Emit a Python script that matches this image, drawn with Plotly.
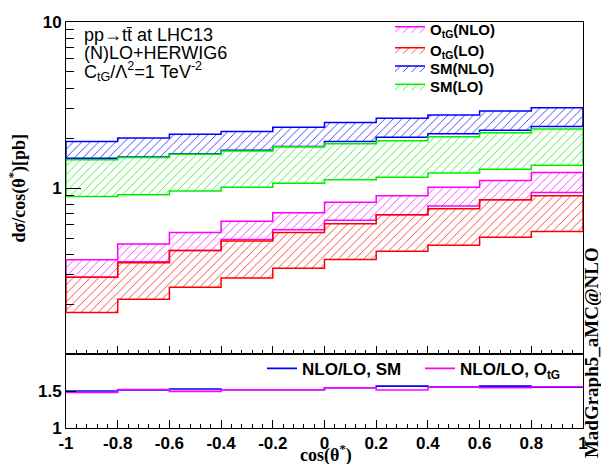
import plotly.graph_objects as go
from plotly.subplots import make_subplots

# ---------------- data ----------------
edges = [-1.0, -0.8, -0.6, -0.4, -0.2, 0.0, 0.2, 0.4, 0.6, 0.8, 1.0]

sm_nlo_hi = [1.91, 2.00, 2.11, 2.19, 2.32, 2.48, 2.63, 2.75, 2.91, 3.04]
sm_nlo_lo = [1.51, 1.54, 1.61, 1.69, 1.78, 1.91, 2.02, 2.12, 2.23, 2.35]
sm_lo_hi = [1.48, 1.53, 1.60, 1.67, 1.77, 1.85, 1.93, 2.04, 2.15, 2.27]
sm_lo_lo = [0.89, 0.91, 0.96, 1.01, 1.07, 1.12, 1.16, 1.23, 1.30, 1.37]
otg_nlo_hi = [0.37, 0.46, 0.54, 0.63, 0.71, 0.82, 0.90, 1.01, 1.11, 1.24]
otg_nlo_lo = [0.29, 0.36, 0.42, 0.49, 0.56, 0.64, 0.69, 0.78, 0.85, 0.94]
otg_lo_hi = [0.29, 0.355, 0.42, 0.48, 0.54, 0.61, 0.69, 0.75, 0.85, 0.90]
otg_lo_lo = [0.178, 0.214, 0.253, 0.287, 0.329, 0.371, 0.416, 0.452, 0.506, 0.547]

ratio_sm = [1.50, 1.515, 1.527, 1.518, 1.518, 1.545, 1.567, 1.554, 1.567, 1.553]
ratio_otg = [1.48, 1.52, 1.495, 1.518, 1.518, 1.545, 1.514, 1.554, 1.545, 1.558]

x_ticks = [-1, -0.8, -0.6, -0.4, -0.2, 0, 0.2, 0.4, 0.6, 0.8, 1]
x_ticktext = ["-1", "-0.8", "-0.6", "-0.4", "-0.2", "0", "0.2", "0.4", "0.6", "0.8", "1"]

SANS = "Liberation Sans"
SERIF = "Liberation Serif"

L, R, T, B = 66, 18, 16, 36
W, H = 601, 464
ph = H - T - B
pw = W - L - R
split = (428 - 353) / ph


def px_x(x):
    return (x - L) / pw


def px_y(y):
    return (H - B - y) / ph


# (label, upper, lower, colour, legend id, legend anchor in px)
bands = [
    ("<b>O<sub>tG</sub>(NLO)</b>", otg_nlo_hi, otg_nlo_lo, "#ff00ff", "legend", 23),
    ("<b>O<sub>tG</sub>(LO)</b>", otg_lo_hi, otg_lo_lo, "#ff0000", "legend2", 44.5),
    ("<b>SM(NLO)</b>", sm_nlo_hi, sm_nlo_lo, "#0000ff", "legend3", 63),
    ("<b>SM(LO)</b>", sm_lo_hi, sm_lo_lo, "#00ee00", "legend4", 81.5),
]
ratios = [
    ("<b>NLO/LO, SM</b>", ratio_sm, "#0000ff", "legend5", 262),
    ("<b>NLO/LO, O<sub>tG</sub></b>", ratio_otg, "#ff00ff", "legend6", 420),
]


def step_xy(vals):
    xs, ys = [], []
    for i, v in enumerate(vals):
        xs += [edges[i], edges[i + 1]]
        ys += [v, v]
    return xs, ys


fig = make_subplots(rows=2, cols=1, shared_xaxes=False, vertical_spacing=0)

legends = {}
for name, hi, lo, col, lg, ly in bands:
    xh, yh = step_xy(hi)
    xl, yl = step_xy(lo)
    xs = xh + xl[::-1] + [xh[0]]
    ys = yh + yl[::-1] + [yh[0]]
    fig.add_trace(go.Scatter(
        x=xs, y=ys, mode="lines", fill="toself", name=name,
        line=dict(color=col, width=1.5),
        fillcolor="rgba(0,0,0,0)",
        fillpattern=dict(shape="/", fgcolor=col, bgcolor="rgba(255,255,255,0)",
                         size=6, solidity=0.15, fgopacity=0.8),
        legend=lg, showlegend=True,
    ), row=1, col=1)
    legends[lg] = dict(x=px_x(390), y=px_y(ly), xanchor="left", yanchor="middle",
                       bgcolor="rgba(0,0,0,0)", itemwidth=30,
                       font=dict(family=SANS, size=15, color="black"))

for name, vals, col, lg, lx in ratios:
    fig.add_trace(go.Scatter(
        x=edges, y=vals + [vals[-1]], mode="lines", line_shape="hv", name=name,
        line=dict(color=col, width=1.6), legend=lg, showlegend=True,
    ), row=2, col=1)
    legends[lg] = dict(x=px_x(lx), y=px_y(368), xanchor="left", yanchor="middle",
                       bgcolor="rgba(0,0,0,0)", itemwidth=30,
                       font=dict(family=SANS, size=17, color="black"))

fig.update_layout(
    width=W, height=H, margin=dict(l=L, r=R, t=T, b=B),
    plot_bgcolor="white", paper_bgcolor="white",
    font=dict(family=SANS, size=16, color="black"),
    showlegend=True,
    **legends,
)

minor_log = [0.2, 0.3, 0.4, 0.5, 0.6, 0.7, 0.8, 0.9, 2, 3, 4, 5, 6, 7, 8, 9]

axis_common = dict(range=[-1, 1], showline=True, linecolor="black", linewidth=1,
                   mirror=True, ticks="inside", ticklen=8, tickcolor="black",
                   tickvals=x_ticks, ticktext=x_ticktext,
                   minor=dict(ticks="inside", ticklen=4, dtick=0.04, tick0=-1,
                              tickcolor="black"),
                   showgrid=False, zeroline=False)
fig.update_xaxes(**axis_common, showticklabels=False, row=1, col=1)
fig.update_xaxes(**axis_common, showticklabels=True, row=2, col=1,
                 tickfont=dict(family=SANS, size=17, color="black", weight="bold"))

fig.update_yaxes(type="log", range=[-1, 1], row=1, col=1, domain=[split, 1],
                 showline=True, linecolor="black", linewidth=1, mirror=True,
                 ticks="inside", ticklen=15, tickcolor="black",
                 tickvals=[1, 10], ticktext=["1", "10"],
                 tickfont=dict(family=SANS, size=17, color="black", weight="bold"),
                 minor=dict(ticks="inside", ticklen=8, tickvals=minor_log, tickcolor="black"),
                 showgrid=False, zeroline=False)
fig.update_yaxes(range=[1, 2], row=2, col=1, domain=[0, split],
                 showline=True, linecolor="black", linewidth=1, mirror=True,
                 ticks="inside", ticklen=10, tickcolor="black",
                 tickvals=[1, 1.5], ticktext=["1", "1.5"],
                 tickfont=dict(family=SANS, size=17, color="black", weight="bold"),
                 showgrid=False, zeroline=False)

anns = [
    dict(text="pp→tt̄ at LHC13", x=px_x(82), y=px_y(29), xanchor="left", yanchor="middle",
         font=dict(family=SANS, size=18)),
    dict(text="(N)LO+HERWIG6", x=px_x(82), y=px_y(47), xanchor="left", yanchor="middle",
         font=dict(family=SANS, size=18)),
    dict(text="C<sub>tG</sub>/Λ<sup>2</sup>=1 TeV<sup>-2</sup>", x=px_x(82), y=px_y(66),
         xanchor="left", yanchor="middle", font=dict(family=SANS, size=18)),
    dict(text="<b>dσ/cos(θ<sup>*</sup>)[pb]</b>", x=px_x(18), y=px_y(185), textangle=-90,
         xanchor="center", yanchor="middle", font=dict(family=SERIF, size=18)),
    dict(text="<b>cos(θ<sup>*</sup>)</b>", x=px_x(326), y=px_y(454),
         xanchor="center", yanchor="middle", font=dict(family=SERIF, size=18)),
    dict(text="<b>MadGraph5_aMC@NLO</b>", x=px_x(591), y=px_y(352), textangle=-90,
         xanchor="center", yanchor="middle", font=dict(family=SERIF, size=19)),
]
for a in anns:
    a.update(xref="paper", yref="paper", showarrow=False)
    fig.add_annotation(**a)

fig.write_html("out.html")
